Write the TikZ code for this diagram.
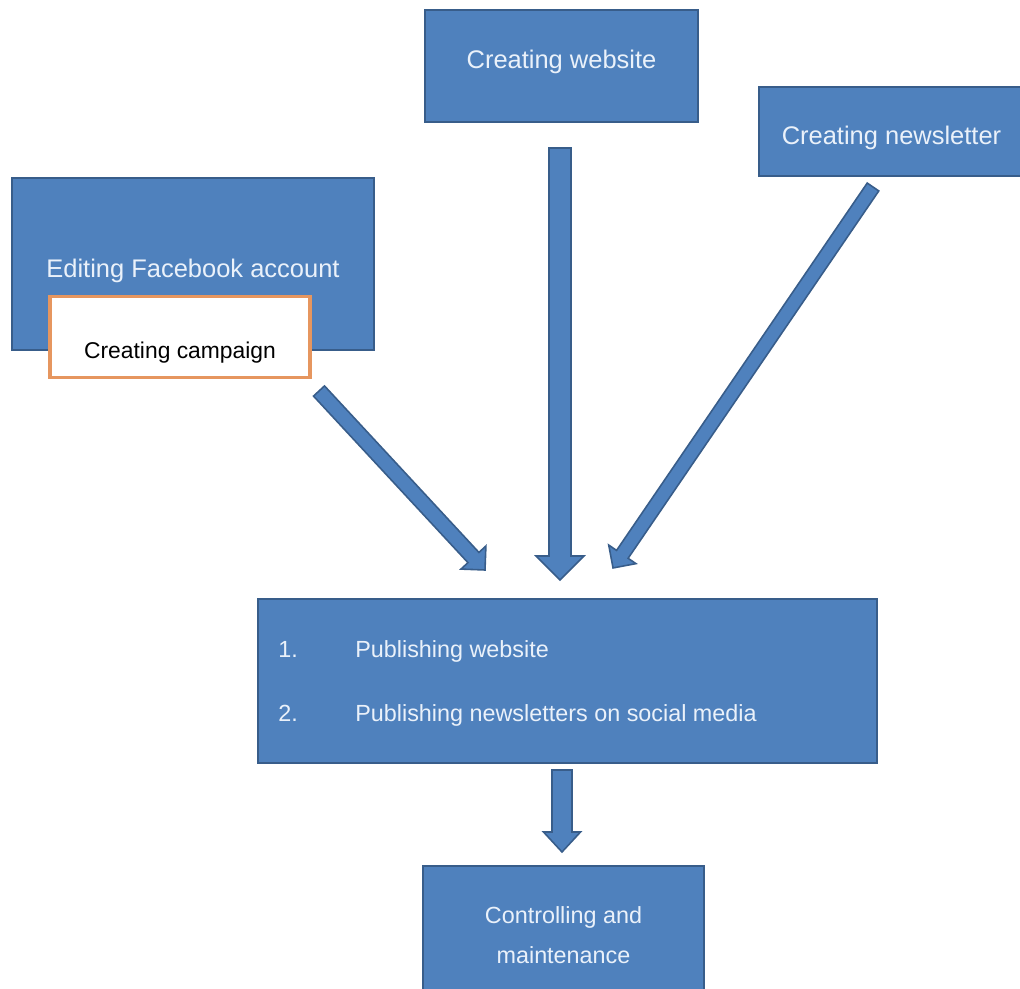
\documentclass[tikz,border=0pt]{standalone}
\usepackage{fontspec}
\setmainfont{Liberation Sans}
\usetikzlibrary{calc}
\definecolor{boxblue}{RGB}{79,129,189}
\definecolor{boxline}{RGB}{56,93,138}
\definecolor{campline}{RGB}{230,150,95}
\definecolor{boxtext}{RGB}{234,241,250}
\tikzstyle{box}=[rectangle, draw=boxline, line width=1.5pt, fill=boxblue, text=boxtext, inner sep=0pt, font=\fontsize{14.5}{17}\selectfont]
\tikzstyle{camp}=[rectangle, draw=campline, line width=1.8pt, fill=white, text=black, inner sep=0pt, font=\fontsize{13}{16}\selectfont]
\tikzstyle{item}=[text=boxtext, inner sep=0pt, anchor=base west, font=\fontsize{13.3}{16}\selectfont]
\tikzstyle{blockarrow}=[draw=boxline, line width=0.9pt, fill=boxblue, line join=miter]
% block arrow: tail, tip, shaft half width, head half width, head length
\newcommand{\bigarrow}[5]{%
  \path[blockarrow] let \p1=($(#2)-(#1)$), \n1={atan2(\y1,\x1)}, \n2={veclen(\x1,\y1)} in
    [shift={(#1)}, rotate=\n1]
    (0pt,#3) -- ({\n2-#5},#3) -- ({\n2-#5},#4) -- ({\n2+0pt},0pt)
    -- ({\n2-#5},-#4) -- ({\n2-#5},-#3) -- (0pt,-#3) -- cycle;
}

\begin{document}
\begin{tikzpicture}[x=0.02cm, y=-0.02cm]
    \useasboundingbox (0,0) rectangle (1020,989);
    % nodes
    \node[box, minimum width=5.46cm, minimum height=2.24cm, text depth=7.4pt] (web) at (561.5,66) {Creating website};
    \node[box, minimum width=5.3cm, minimum height=1.78cm, text height=17.4pt] (news) at (891.5,131.5) {Creating newsletter};
    \node[box, minimum width=7.24cm, minimum height=3.44cm, text height=18.6pt] (fb) at (193,264) {Editing Facebook account};
    \node[camp, minimum width=5.2cm, minimum height=1.62cm, text height=27.6pt] (campaign) at (180,337) {Creating campaign};

    \node[box, minimum width=12.38cm, minimum height=3.28cm] (pub) at (567.5,681) {};
    \node[item] (num1) at (278,657) {1.};
    \node[item] (pubweb) at (355,657) {Publishing website};
    \node[item] (num2) at (278,721) {2.};
    \node[item] (pubnews) at (355,721) {Publishing newsletters on social media};

    \node[box, minimum width=5.62cm, minimum height=2.76cm, align=center, font=\fontsize{13.3}{22.8}\selectfont] (ctrl) at (563.5,935) {Controlling and\\maintenance};

    % arrows
    \coordinate (fbtail) at (319,391);
    \coordinate (fbtip) at (485,570);
    \coordinate (webtail) at (560,148);
    \coordinate (webtip) at (560,580);
    \coordinate (newstail) at (873,187);
    \coordinate (newstip) at (613,568);
    \coordinate (pubtail) at (562,770);
    \coordinate (pubtip) at (562,852);
    \bigarrow{fbtail}{fbtip}{0.15cm}{0.34cm}{0.34cm}
    \bigarrow{webtail}{webtip}{0.22cm}{0.48cm}{0.48cm}
    \bigarrow{newstail}{newstip}{0.14cm}{0.33cm}{0.33cm}
    \bigarrow{pubtail}{pubtip}{0.2cm}{0.37cm}{0.4cm}
\end{tikzpicture}
\end{document}
